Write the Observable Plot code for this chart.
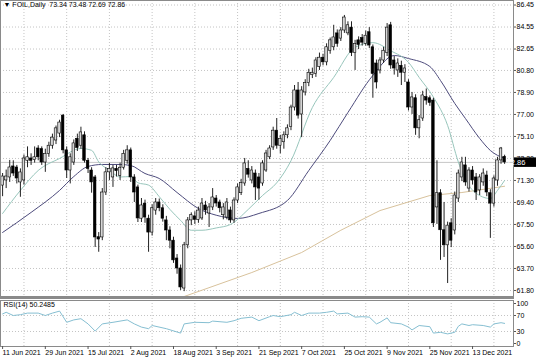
<!DOCTYPE html>
<html><head><meta charset="utf-8">
<script src="https://cdn.jsdelivr.net/npm/d3@7"></script>
<script src="https://cdn.jsdelivr.net/npm/@observablehq/plot@0.6"></script>
<style>
body{margin:0;background:#fff;}
#wrap{position:relative;width:536px;height:357px;overflow:hidden;background:#fff;font-family:"Liberation Sans",Arial,sans-serif;}
#wrap svg{position:absolute;left:0;}
#sep{position:absolute;left:0;top:296px;width:514px;height:3px;background:#8a8a8a;}
</style></head><body><div id="wrap"></div>
<script>
// ---- data (bar index 0 = 11 Jun 2021) ----
const opens = [70.86,71.3,71.56,72.51,72.42,71.13,71.3,73.0,73.2,73.05,74.06,74.0,72.85,73.6,74.3,74.75,75.35,76.9,73.9,72.16,72.85,74.9,74.3,75.2,73.0,72.16,71.56,66.4,66.38,70.26,72.0,71.56,72.3,71.7,72.4,73.0,73.9,71.56,70.7,68.0,69.3,68.0,66.8,68.7,69.4,68.9,67.85,66.98,66.1,64.56,63.7,61.97,65.7,67.85,68.2,67.9,68.02,69.14,68.45,68.97,69.74,69.4,68.3,68.1,68.71,67.85,69.57,70.2,71.04,72.3,71.3,71.9,71.56,71.04,72.16,73.3,74.15,75.6,74.3,74.6,75.2,75.9,77.6,79.07,77.0,78.9,79.7,80.4,80.5,81.1,81.9,81.5,82.5,82.8,84.0,83.55,84.25,84.0,84.5,82.3,83.4,83.6,83.1,84.1,82.8,81.4,80.8,81.66,82.3,84.7,81.66,80.8,81.2,80.6,79.76,77.6,78.4,75.8,76.65,78.5,78.4,78.2,68.97,70.2,67.0,65.7,67.6,66.98,69.74,71.56,72.6,70.6,72.16,71.56,70.44,71.13,71.73,70.2,69.3,71.3,73.03,73.34];
const highs = [71.9,72.2,73.03,73.0,72.6,72.3,73.5,74.2,73.6,74.2,74.3,74.2,74.0,74.6,75.3,76.0,76.5,77.0,74.2,73.6,74.8,75.3,75.9,75.5,73.2,72.4,71.73,66.8,70.6,72.4,72.77,72.6,72.6,72.8,73.9,74.3,74.1,71.8,70.9,69.74,69.6,68.3,69.2,69.74,69.7,69.2,68.2,67.3,66.4,64.9,64.0,65.95,68.1,68.5,68.6,69.0,69.74,69.5,69.3,70.6,70.0,69.6,69.3,69.74,69.0,69.8,71.0,71.4,73.2,73.0,72.5,72.2,71.9,73.0,73.9,74.3,75.9,76.65,75.2,75.5,76.1,77.8,79.5,79.76,79.4,80.0,80.9,81.0,81.9,82.3,82.2,83.1,83.6,84.7,84.3,84.5,85.55,85.0,85.0,83.4,83.7,83.9,84.2,84.5,83.0,81.7,81.9,82.8,84.85,84.95,82.0,81.8,81.6,81.3,80.0,78.9,78.7,76.9,79.0,79.2,78.6,78.4,73.0,70.5,69.4,67.7,68.0,70.3,72.2,73.3,73.3,72.4,72.5,71.9,71.8,72.3,72.1,70.5,71.7,73.3,74.15,73.48];
const lows = [69.9,70.6,71.13,71.65,71.0,69.85,70.9,72.4,72.6,72.8,73.0,72.6,72.0,73.3,74.0,74.4,75.0,73.6,71.47,71.0,72.6,73.8,74.0,72.8,71.9,70.2,65.51,65.1,66.1,70.0,71.3,70.7,71.6,71.3,72.2,72.7,71.13,69.4,67.67,67.67,67.6,65.1,66.5,68.3,68.6,67.7,66.1,65.4,64.14,63.2,61.8,61.7,65.4,67.4,67.5,67.6,67.85,68.3,67.24,68.7,69.0,68.5,67.9,67.9,67.6,67.6,69.3,70.0,70.8,71.5,71.0,69.57,69.6,70.8,72.0,73.1,73.9,74.0,73.6,74.0,74.9,75.6,77.3,76.6,75.0,78.6,79.4,80.1,80.2,80.8,81.2,81.2,82.2,82.5,82.8,83.3,84.0,83.8,82.0,80.8,82.6,82.9,82.9,82.7,78.4,79.2,80.5,81.4,82.0,80.9,80.4,80.2,79.5,79.76,77.3,77.0,75.2,74.9,76.4,77.8,77.7,67.24,67.5,64.4,64.65,62.4,65.5,66.6,69.4,71.2,70.8,70.3,70.9,69.57,70.0,70.8,69.9,66.3,69.0,70.8,72.7,72.69];
const closes = [71.64,71.64,72.42,71.9,71.47,71.99,73.2,73.3,73.0,73.3,73.3,72.85,73.6,74.3,75.0,75.8,76.3,73.9,72.16,73.3,74.5,74.1,75.45,73.0,72.3,71.13,66.38,66.2,70.26,72.0,72.3,72.34,72.1,72.4,73.6,73.9,71.56,70.26,68.02,69.14,68.1,66.8,68.9,69.4,68.9,68.0,66.98,66.1,64.4,63.7,62.06,65.7,67.85,68.3,67.9,68.7,69.31,68.71,68.97,69.83,69.31,68.9,68.97,69.4,67.85,69.57,70.7,71.1,72.77,71.8,72.16,70.7,70.6,72.77,73.63,74.06,75.6,74.3,74.9,75.2,75.8,77.6,79.07,76.9,79.07,79.7,80.6,80.6,81.66,81.9,81.5,82.8,83.4,83.65,83.1,84.25,85.37,84.7,82.3,83.1,83.0,83.2,83.8,82.95,80.5,79.76,81.66,82.5,84.5,81.23,80.97,81.4,80.6,80.97,77.6,78.47,75.8,76.5,78.64,78.2,78.0,67.6,70.2,67.0,65.7,67.4,66.1,70.0,71.9,72.85,71.13,72.16,71.3,70.26,71.56,71.9,70.26,69.3,71.47,73.03,74.06,72.86];

// moving averages: [bar index, value]
const fastMA = [[0,68.45],[5,70.44],[10,72.16],[16,73.2],[22,74.06],[25,73.9],[27,72.9],[30,72.2],[33,71.6],[36,71.64],[38,71.1],[41,70.9],[44,69.9],[47,68.8],[50,67.85],[53,67.0],[56,67.0],[60,67.2],[64,67.5],[69,68.8],[73,70.0],[77,71.1],[81,73.0],[87,77.6],[93,80.2],[99,82.8],[104,83.2],[109,82.5],[114,81.5],[117,80.2],[121,78.5],[125,76.05],[128,72.9],[131,70.86],[134,70.0],[137,69.74],[139,70.44],[141,71.3]];
const slowMA = [[0,66.81],[8,68.54],[16,70.44],[20,71.64],[24,72.51],[28,72.68],[33,72.68],[36,72.59],[40,71.9],[44,71.47],[49,70.26],[55,68.88],[60,68.3],[66,68.02],[72,68.45],[80,69.57],[86,72.16],[92,74.75],[97,77.17],[104,80.37],[110,82.09],[114,81.83],[120,81.14],[123,79.93],[127,77.95],[130,76.65],[134,74.93],[137,73.89],[141,73.2]];
const longMA = [[48,60.9],[51,61.28],[70,63.35],[84,65.08],[95,67.0],[106,68.7],[120,70.0],[129,70.26],[141,70.8]];
const rsi = [[0,74],[1,78],[3,70],[5,72],[7,76],[10,76],[12,70],[14,76],[16,81],[18,53],[20,59],[22,62],[24,49],[26,31],[28,49],[31,53],[35,59],[37,49],[39,41],[41,37],[42,45],[46,37],[50,26],[51,49],[54,53],[58,52],[59,56],[63,53],[65,57],[67,63],[70,66],[72,57],[75,67],[76,70],[78,67],[81,72],[82,78],[84,70],[86,76],[89,76],[91,78],[93,81],[94,74],[97,76],[99,66],[101,67],[103,66],[105,49],[106,53],[108,64],[109,52],[112,49],[114,41],[115,34],[117,45],[120,42],[121,26],[123,28],[125,24],[127,28],[128,43],[129,49],[131,45],[132,47],[135,45],[137,41],[138,49],[140,52],[141,50.25]];

const priceTicks = [86.45,84.55,82.65,80.80,78.90,77.00,75.10,73.20,71.30,69.40,67.50,65.60,63.70,61.80];
const rsiTicks = [100,70,30,0];
const rsiLevels = [70,30];
const dateTickIdx = [0,12,24,36,48,60,72,84,96,108,120,132];
const dateLabels = ["11 Jun 2021","29 Jun 2021","15 Jul 2021","2 Aug 2021","18 Aug 2021","3 Sep 2021","21 Sep 2021","7 Oct 2021","25 Oct 2021","9 Nov 2021","25 Nov 2021","13 Dec 2021"];
const gridIdx = [6,18,30,42,54,66,78,90,102,114,126,138];
const titleText = "\u25BC FOIL,Daily  73.34 73.48 72.69 72.86";
const rsiText = "RSI(14) 50.2485";
const lastPrice = 72.86;

// ---- drawing ----
const bars = opens.map((o,i)=>({i, o, h:highs[i], l:lows[i], c:closes[i]}));
const xDomain = [-0.59, 143.5];
const font = '"Liberation Sans", Arial, sans-serif';
const grid = "#c4c4c4";

const main = Plot.plot({
  width:536, height:298, marginLeft:0, marginRight:23, marginTop:0, marginBottom:2,
  x:{domain:xDomain, axis:null},
  y:{domain:[61.28,86.84], axis:null},
  style:{fontFamily:font, fontSize:"7px", background:"transparent", color:"#000"},
  marks:[
    Plot.ruleY(priceTicks, {stroke:grid, strokeDasharray:"1,2"}),
    Plot.ruleX(gridIdx, {stroke:grid, strokeDasharray:"1,2"}),
    Plot.ruleY([lastPrice], {stroke:"#c6c6c6"}),
    Plot.line(longMA, {x:d=>d[0], y:d=>d[1], stroke:"#d8c29c", strokeWidth:1, clip:true}),
    Plot.line(slowMA, {x:d=>d[0], y:d=>d[1], stroke:"#4d4b7c", strokeWidth:1, curve:"monotone-x"}),
    Plot.line(fastMA, {x:d=>d[0], y:d=>d[1], stroke:"#98c6bc", strokeWidth:1, curve:"monotone-x"}),
    Plot.ruleX(bars, {x:"i", y1:"l", y2:"h", stroke:"#222", strokeWidth:1}),
    Plot.rect(bars, {x1:d=>d.i-0.36, x2:d=>d.i+0.36, y1:"o", y2:"c",
      fill:d=>d.c>=d.o?"#d6d6d6":"#000", stroke:"#000", strokeWidth:0.6}),
    Plot.frame({stroke:"#8a8a8a"}),
    Plot.axisY(priceTicks, {anchor:"right", tickSize:2, tickPadding:1, tickFormat:d=>d.toFixed(2), fontSize:7, stroke:"#555"}),
    Plot.text([titleText], {frameAnchor:"top-left", dx:3, dy:2, textAnchor:"start", lineAnchor:"top", fontSize:7, fill:"#000"})
  ]
});
main.style.top = "0px";

const sub = Plot.plot({
  width:536, height:60, marginLeft:0, marginRight:23, marginTop:3, marginBottom:11,
  x:{domain:xDomain, axis:null},
  y:{domain:[-7.5,107.5], axis:null},
  style:{fontFamily:font, fontSize:"7px", background:"transparent", color:"#000"},
  marks:[
    Plot.ruleY(rsiLevels, {stroke:grid, strokeDasharray:"1,2"}),
    Plot.ruleX(gridIdx, {stroke:grid, strokeDasharray:"1,2"}),
    Plot.line(rsi, {x:d=>d[0], y:d=>d[1], stroke:"#86bfd2", strokeWidth:1}),
    Plot.frame({stroke:"#8a8a8a"}),
    Plot.axisY(rsiTicks, {anchor:"right", tickSize:2, tickPadding:1, fontSize:7, stroke:"#555"}),
    Plot.axisX(dateTickIdx, {anchor:"bottom", tickSize:3, tickPadding:1, textAnchor:"start", fontSize:7, stroke:"#555",
      tickFormat:d=>dateLabels[dateTickIdx.indexOf(d)]}),
    Plot.text([rsiText], {frameAnchor:"top-left", dx:3, dy:2, textAnchor:"start", lineAnchor:"top", fontSize:7, fill:"#000"})
  ]
});
sub.style.top = "297px";

const wrap = document.getElementById("wrap");
wrap.appendChild(main);
wrap.appendChild(sub);
const sep = document.createElement("div"); sep.id = "sep"; wrap.appendChild(sep);

// current price tag on the price scale (covers the lower part of the 73.20 label, as in the original)
const yy = main.scale("y").apply(lastPrice);
const svg = d3.select(main);
svg.append("rect").attr("x",514).attr("y",yy-4.5).attr("width",22).attr("height",9.5).attr("fill","#000");
svg.append("text").attr("x",516).attr("y",yy+0.3).attr("dy","0.35em").attr("fill","#fff")
  .attr("font-size",7.5).attr("font-family",font).text(lastPrice.toFixed(2));
</script>
</body></html>
